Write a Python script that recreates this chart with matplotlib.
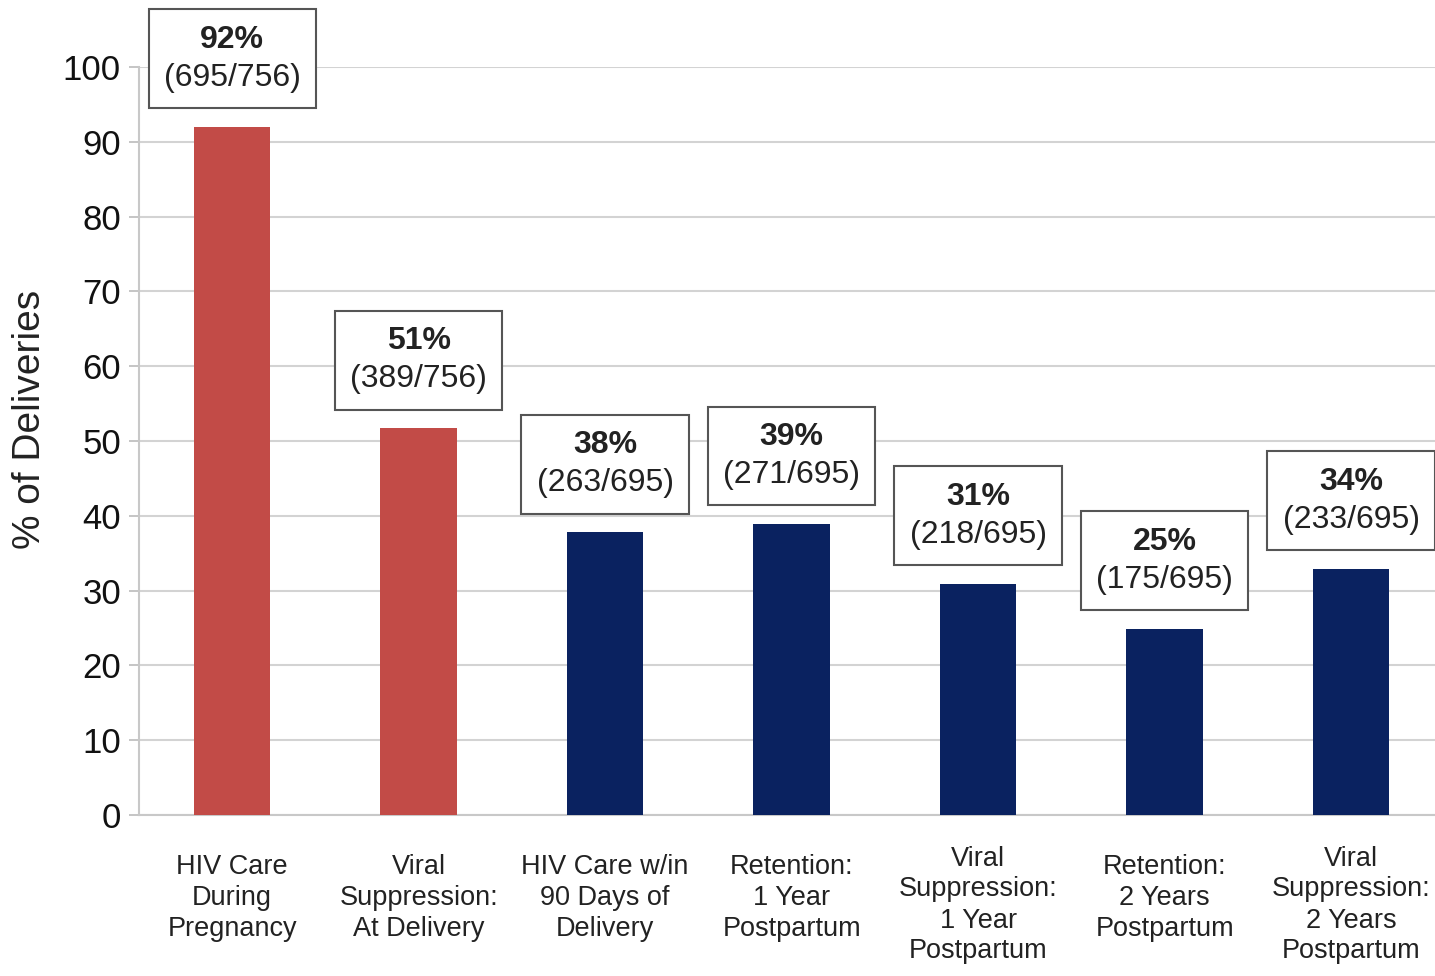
import matplotlib
matplotlib.use("Agg")
import matplotlib.pyplot as plt
from matplotlib.transforms import blended_transform_factory
from matplotlib.offsetbox import TextArea, VPacker, AnnotationBbox

categories = ["HIV Care\nDuring\nPregnancy", "Viral\nSuppression:\nAt Delivery",
              "HIV Care w/in\n90 Days of\nDelivery", "Retention:\n1 Year\nPostpartum",
              "Viral\nSuppression:\n1 Year\nPostpartum", "Retention:\n2 Years\nPostpartum",
              "Viral\nSuppression:\n2 Years\nPostpartum"]
values = [92, 51.7, 37.8, 38.9, 30.9, 24.9, 32.9]
pct_labels = ["92%", "51%", "38%", "39%", "31%", "25%", "34%"]
count_labels = ["(695/756)", "(389/756)", "(263/695)", "(271/695)", "(218/695)", "(175/695)", "(233/695)"]
colors = ["#C24B47", "#C24B47", "#0A2260", "#0A2260", "#0A2260", "#0A2260", "#0A2260"]
yticks = [0, 10, 20, 30, 40, 50, 60, 70, 80, 90, 100]

plt.rcParams['font.family'] = ['Liberation Sans', 'DejaVu Sans']

fig = plt.figure(figsize=(14.35, 9.76), dpi=100)
ax = fig.add_axes([139/1435, 1-815/976, 1-139/1435, (815-67)/976])

x = list(range(len(categories)))
ax.bar(x, values, width=0.41, color=colors, zorder=3)
ax.set_xlim(-0.5, 6.45)
ax.set_ylim(0, 100)
ax.set_yticks(yticks)
ax.tick_params(axis='y', labelsize=25, length=7, width=1.2, color='#BBBBBB', pad=6, labelcolor='#111111')
ax.set_xticks([])
ax.grid(axis='y', color='#D3D3D3', linewidth=1.5, zorder=0)
for s in ['top', 'right']:
    ax.spines[s].set_visible(False)
ax.spines['left'].set_color('#C8C8C8')
ax.spines['left'].set_linewidth(1.5)
ax.spines['bottom'].set_color('#C8C8C8')
ax.spines['bottom'].set_linewidth(1.5)
ax.set_ylabel("% of Deliveries", fontsize=28, color='#222222')
ax.yaxis.set_label_coords((48 - 139) / 1296, (815 - 419) / 748)

for i, (v, p, c) in enumerate(zip(values, pct_labels, count_labels)):
    ta1 = TextArea(p, textprops=dict(fontsize=23, fontweight='bold', color='#222222'))
    ta2 = TextArea(c, textprops=dict(fontsize=23, color='#222222'))
    pack = VPacker(children=[ta1, ta2], align='center', pad=0, sep=6)
    ab = AnnotationBbox(pack, (i, v), xybox=(0, 49), xycoords='data',
                        boxcoords='offset points', box_alignment=(0.5, 0.5),
                        frameon=True, pad=1.1, annotation_clip=False,
                        bboxprops=dict(boxstyle='square,pad=1.1', fc='white', ec='#555555', lw=1.5),
                        zorder=5)
    ax.add_artist(ab)

trans = blended_transform_factory(ax.transData, ax.transAxes)
for i, lab in enumerate(categories):
    nl = lab.count("\n") + 1
    yc = -(898 - 815) / 748 if nl == 3 else -(905 - 815) / 748
    ax.text(i, yc, lab, transform=trans, ha='center', va='center', fontsize=19.5,
            color='#222222', linespacing=1.25)

fig.savefig("out.png", dpi=100)
